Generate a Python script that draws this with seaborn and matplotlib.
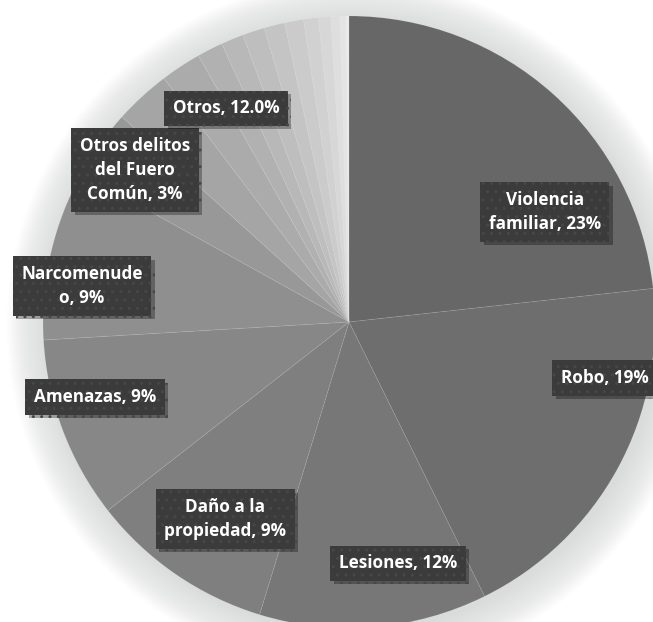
import matplotlib
matplotlib.use("Agg")
import matplotlib.pyplot as plt
import matplotlib.patheffects as pe
from matplotlib.patches import Circle
import seaborn as sns
import numpy as np

# ---- data (percent of cases) ----
categories = ["Violencia familiar", "Robo", "Lesiones", "Daño a la propiedad",
              "Amenazas", "Narcomenudeo", "Otros delitos del Fuero Común"]
values = [23.2, 19.4, 12.0, 9.7, 9.6, 9.0, 3.6]
# the many small slices grouped as "Otros"
otros_values = [2.97, 2.14, 1.36, 1.19, 1.17, 1.08, 1.0, 0.78, 0.64, 0.47, 0.31, 0.17]
label_texts = ["Violencia\nfamiliar, 23%", "Robo, 19%", "Lesiones, 12%",
               "Daño a la\npropiedad, 9%", "Amenazas, 9%", "Narcomenude\no, 9%",
               "Otros delitos\ndel Fuero\nComún, 3%", "Otros, 12.0%"]

main_colors = ["#676767", "#6e6e6e", "#777777", "#7f7f7f", "#878787", "#8f8f8f", "#989898"]
otros_colors = sns.blend_palette(["#a5a5a5", "#eaeaea"], n_colors=len(otros_values))

sns.set_theme(style="white")
plt.rcParams['font.family'] = ['Open Sans', 'DejaVu Sans']

W, H, DPI = 653, 622, 100
fig = plt.figure(figsize=(W / DPI, H / DPI), dpi=DPI)
fig.patch.set_facecolor("white")
ax = fig.add_axes([0, 0, 1, 1])
R = 306.0
cx, cy = 349.0, 322.0
ax.set_xlim(-cx / R, (W - cx) / R)
ax.set_ylim(-(H - cy) / R, cy / R)
ax.axis("off")

# soft shadow / glow around the pie
for r in np.linspace(1.13, 1.0, 26):
    ax.add_patch(Circle((0.012, -0.012), r, color="#d3d7d7", alpha=0.045, lw=0, zorder=0))

all_vals = values + otros_values
all_cols = main_colors + list(otros_colors)
wedges, _ = ax.pie(all_vals, colors=all_cols, startangle=90, counterclock=False,
                   radius=1.0, wedgeprops=dict(edgecolor=(1, 1, 1, 0.1), linewidth=0.6))
for w in wedges:
    w.set_zorder(2)
ax.set_xlim(-cx / R, (W - cx) / R)
ax.set_ylim(-(H - cy) / R, cy / R)

label_pos = [(0.640, 0.359), (0.835, -0.183), (0.160, -0.788), (-0.405, -0.644),
             (-0.830, -0.245), (-0.873, 0.118), (-0.699, 0.497), (-0.402, 0.699)]

for txt, (x, y) in zip(label_texts, label_pos):
    t = ax.text(x, y, txt, ha="center", va="center", color="white", fontsize=12.3,
                fontweight="bold", linespacing=1.45, zorder=5,
                bbox=dict(boxstyle="square,pad=0.5", fc="#3b3b3b", ec="#474747",
                          hatch="..", lw=0.0))
    t.get_bbox_patch().set_path_effects([
        pe.SimplePatchShadow(offset=(2.5, -2.5), shadow_rgbFace="black", alpha=0.3),
        pe.Normal()])

fig.savefig("out.png", dpi=DPI, facecolor="white")
